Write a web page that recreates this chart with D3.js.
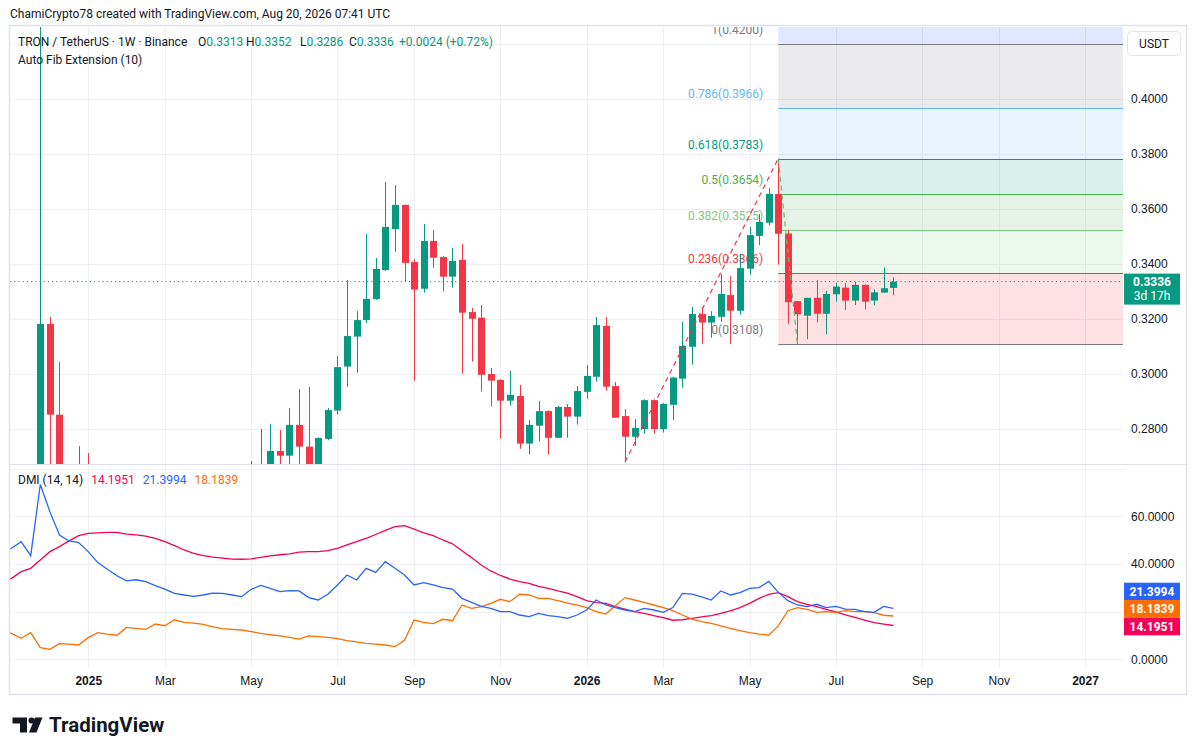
<!DOCTYPE html>
<html>
<head>
<meta charset="utf-8">
<script src="https://cdn.jsdelivr.net/npm/d3@7"></script>
<style>
  body { margin: 0; background: #fff; }
  svg { display: block; font-family: Roboto, "Liberation Sans", sans-serif; }
</style>
</head>
<body>
<div id="vis"></div>
<script>
// TRX / USDT weekly bars (Binance)
const weeks = [
  "2024-11-04","2024-11-11","2024-11-18","2024-11-25","2024-12-02","2024-12-09","2024-12-16","2024-12-23","2024-12-30",
  "2025-01-06","2025-01-13","2025-01-20","2025-01-27","2025-02-03","2025-02-10","2025-02-17","2025-02-24",
  "2025-03-03","2025-03-10","2025-03-17","2025-03-24","2025-03-31","2025-04-07","2025-04-14","2025-04-21","2025-04-28",
  "2025-05-05","2025-05-12","2025-05-19","2025-05-26","2025-06-02","2025-06-09","2025-06-16","2025-06-23","2025-06-30",
  "2025-07-07","2025-07-14","2025-07-21","2025-07-28","2025-08-04","2025-08-11","2025-08-18","2025-08-25",
  "2025-09-01","2025-09-08","2025-09-15","2025-09-22","2025-09-29","2025-10-06","2025-10-13","2025-10-20","2025-10-27",
  "2025-11-03","2025-11-10","2025-11-17","2025-11-24","2025-12-01","2025-12-08","2025-12-15","2025-12-22","2025-12-29",
  "2026-01-05","2026-01-12","2026-01-19","2026-01-26","2026-02-02","2026-02-09","2026-02-16","2026-02-23",
  "2026-03-02","2026-03-09","2026-03-16","2026-03-23","2026-03-30","2026-04-06","2026-04-13","2026-04-20","2026-04-27",
  "2026-05-04","2026-05-11","2026-05-18","2026-05-25","2026-06-01","2026-06-08","2026-06-15","2026-06-22","2026-06-29",
  "2026-07-06","2026-07-13","2026-07-20","2026-07-27","2026-08-03","2026-08-10","2026-08-17"
];
const opens = [
  0.1600,0.1680,0.1800,0.1990,0.2000,0.3182,0.2852,0.2500,0.2520,
  0.2560,0.2450,0.2400,0.2450,0.2370,0.2410,0.2390,0.2320,
  0.2400,0.2350,0.2260,0.2250,0.2320,0.2400,0.2440,0.2470,0.2460,
  0.2500,0.2620,0.2640,0.2720,0.2703,0.2815,0.2736,0.2650,0.2764,
  0.2867,0.3027,0.3136,0.3196,0.3272,0.3378,0.3527,0.3615,
  0.3407,0.3310,0.3484,0.3425,0.3354,0.3415,0.3225,0.3205,0.3000,
  0.2978,0.2903,0.2920,0.2747,0.2812,0.2865,0.2768,0.2880,0.2845,
  0.2935,0.2990,0.3175,0.2956,0.2847,0.2772,0.2800,0.2905,
  0.2800,0.2888,0.2983,0.3099,0.3218,0.3187,0.3208,0.3287,0.3230,
  0.3383,0.3502,0.3550,0.3655,0.3511,0.3265,0.3212,0.3277,0.3219,
  0.3290,0.3314,0.3267,0.3324,0.3267,0.3296,0.3313
];
const highs = [
  0.1700,0.1850,0.2050,0.2100,0.4490,0.3207,0.3044,0.2620,0.2738,
  0.2713,0.2620,0.2580,0.2550,0.2500,0.2490,0.2480,0.2460,
  0.2500,0.2370,0.2360,0.2400,0.2460,0.2520,0.2540,0.2500,0.2560,
  0.2684,0.2800,0.2818,0.2796,0.2876,0.2945,0.2953,0.2770,0.2876,
  0.3065,0.3342,0.3229,0.3509,0.3422,0.3698,0.3687,0.3616,
  0.3418,0.3545,0.3524,0.3429,0.3458,0.3473,0.3240,0.3251,0.3022,
  0.2982,0.3011,0.2960,0.2833,0.2902,0.2868,0.2884,0.2891,0.2956,
  0.3033,0.3207,0.3207,0.2971,0.2873,0.2836,0.2908,0.2908,
  0.2894,0.2990,0.3189,0.3244,0.3244,0.3228,0.3364,0.3356,0.3437,
  0.3535,0.3582,0.3676,0.3783,0.3524,0.3265,0.3277,0.3342,0.3303,
  0.3332,0.3330,0.3335,0.3326,0.3308,0.3387,0.3352
];
const lows = [
  0.1580,0.1630,0.1770,0.1900,0.1980,0.2620,0.2350,0.2350,0.2400,
  0.2350,0.2250,0.2280,0.2200,0.2150,0.2320,0.2300,0.2220,
  0.2260,0.2200,0.2180,0.2210,0.2250,0.2250,0.2380,0.2400,0.2420,
  0.2460,0.2580,0.2600,0.2620,0.2620,0.2640,0.2620,0.2600,0.2759,
  0.2852,0.2954,0.3005,0.3185,0.3270,0.3375,0.3445,0.3336,
  0.2976,0.3296,0.3387,0.3300,0.3314,0.3001,0.3045,0.2936,0.2881,
  0.2765,0.2885,0.2728,0.2707,0.2754,0.2707,0.2768,0.2768,0.2816,
  0.2910,0.2972,0.2939,0.2840,0.2680,0.2739,0.2783,0.2783,
  0.2787,0.2833,0.2950,0.3034,0.3110,0.3132,0.3190,0.3109,0.3216,
  0.3361,0.3469,0.3539,0.3398,0.3182,0.3108,0.3126,0.3188,0.3144,
  0.3263,0.3233,0.3251,0.3235,0.3250,0.3296,0.3286
];
const closes = [
  0.1680,0.1800,0.1990,0.2000,0.3182,0.2852,0.2500,0.2520,0.2560,
  0.2450,0.2400,0.2450,0.2370,0.2410,0.2390,0.2320,0.2400,
  0.2350,0.2260,0.2250,0.2320,0.2400,0.2440,0.2470,0.2460,0.2500,
  0.2620,0.2640,0.2720,0.2703,0.2815,0.2736,0.2650,0.2767,0.2869,
  0.3025,0.3138,0.3196,0.3273,0.3382,0.3535,0.3615,0.3404,
  0.3307,0.3484,0.3423,0.3354,0.3411,0.3223,0.3201,0.2997,0.2976,
  0.2903,0.2924,0.2747,0.2815,0.2865,0.2768,0.2880,0.2845,0.2938,
  0.2993,0.3178,0.2954,0.2841,0.2772,0.2804,0.2905,0.2800,
  0.2891,0.2987,0.3102,0.3218,0.3187,0.3211,0.3291,0.3230,0.3385,
  0.3505,0.3553,0.3655,0.3510,0.3261,0.3217,0.3277,0.3219,0.3291,
  0.3318,0.3267,0.3324,0.3263,0.3297,0.3312,0.3336
];

// DMI (14, 14)
const plusDI = [
  44.5,46.6,49.4,43.5,73.4,62.0,52.2,49.7,49.0,
  45.2,40.6,37.8,35.1,32.9,33.4,32.6,30.9,
  29.5,27.7,27.0,26.4,27.0,27.8,27.7,27.0,26.3,
  29.4,31.0,29.8,28.4,28.8,28.7,25.9,24.9,27.3,
  31.2,35.4,33.3,38.2,36.5,41.0,38.2,35.4,
  31.2,32.2,31.2,30.1,29.5,25.6,23.9,22.2,21.4,
  20.0,20.0,18.6,17.9,19.3,18.3,17.9,17.2,18.6,
  20.7,24.9,22.8,21.7,20.7,20.0,21.4,20.7,
  19.7,21.7,27.7,27.4,26.2,24.9,28.7,27.0,28.0,
  29.8,30.1,32.7,28.1,24.6,22.8,22.1,23.1,21.7,
  22.2,21.1,21.0,20.0,19.7,22.2,21.3994
];
const minusDI = [
  11.6,10.9,8.8,11.2,4.9,4.2,6.6,6.4,6.0,
  9.1,11.2,10.6,10.1,13.4,13.0,12.6,14.8,
  14.1,16.6,15.5,15.2,14.7,13.6,12.9,12.6,12.3,
  11.6,10.9,10.3,9.8,9.2,8.5,9.8,9.5,9.2,
  8.7,7.8,7.3,6.7,6.4,6.0,5.3,8.0,
  16.5,15.5,15.0,16.8,16.2,22.8,21.4,22.1,23.5,
  25.2,24.2,27.3,27.0,25.6,25.6,24.6,23.6,22.7,
  21.7,20.0,19.0,22.5,25.9,24.9,23.9,22.8,
  21.7,20.4,18.6,16.9,15.8,15.1,14.0,13.0,12.0,
  11.2,10.6,10.1,14.0,20.4,21.7,21.0,19.7,20.0,
  19.7,20.4,20.0,20.0,19.6,18.5,18.1839
];
const adx = [
  32.6,34.0,36.8,38.2,41.7,45.2,47.3,49.7,51.9,
  52.9,53.1,53.3,53.3,52.6,52.2,51.7,50.8,
  49.4,47.7,45.9,44.5,43.5,42.9,42.5,42.1,42.0,
  42.2,42.8,43.4,43.9,44.3,45.0,45.2,45.2,45.6,
  46.6,48.0,49.4,50.8,52.4,54.1,55.7,56.1,
  54.7,53.1,51.9,50.1,48.5,45.6,42.7,39.6,37.1,
  35.2,33.7,32.6,31.9,30.6,29.8,28.7,27.8,26.3,
  24.6,23.8,23.5,22.1,21.1,20.0,19.3,18.3,
  17.5,16.4,16.6,17.2,17.8,18.3,19.3,20.3,21.7,
  23.5,25.6,27.3,28.0,26.3,24.2,23.1,22.1,21.0,
  19.9,18.7,17.6,16.5,15.4,14.8,14.1951
];

const priceTicks = [0.28, 0.30, 0.32, 0.34, 0.36, 0.38, 0.40];
const dmiTicks = [0, 40, 60];
const dmiGrid = [0, 20, 40, 60, 80];
const timeTicks = ["2025-01-06","2025-03-03","2025-05-05","2025-07-07","2025-09-01","2025-11-03",
                   "2026-01-05","2026-03-02","2026-05-04","2026-07-06","2026-09-07","2026-11-02","2027-01-04"];
const timeLabels = ["2025","Mar","May","Jul","Sep","Nov","2026","Mar","May","Jul","Sep","Nov","2027"];

// Auto Fib Extension levels
const fibRatios = [0, 0.236, 0.382, 0.5, 0.618, 0.786, 1, 1.618];
const fibPrices = [0.3108, 0.3366, 0.3525, 0.3654, 0.3783, 0.3966, 0.4200, 0.4783];
const fibStart = "2026-05-25";
const trendPoints = [["2026-02-02", 0.2680], ["2026-05-25", 0.3783], ["2026-06-08", 0.3108]];

const lastPrice = 0.3336;
const lastChange = 0.0024;
const dmiLast = [21.3994, 18.1839, 14.1951];

// colours
const UP = "#089981", DOWN = "#f23645";
const fibColors = ["#787b86", "#f23645", "#81c784", "#4caf50", "#089981", "#64b5f6", "#787b86", "#2962ff"];
const dmiColors = {plus: "#2962ff", minus: "#ff6d00", adx: "#f50057"};
const GRID = "#eff0f3", TEXT = "#131722";

const parse = d3.utcParse("%Y-%m-%d");
const bars = weeks.map((w, i) => ({
  date: parse(w), o: opens[i], h: highs[i], l: lows[i], c: closes[i],
  pdi: plusDI[i], mdi: minusDI[i], adx: adx[i]
}));

// layout
const W = 1195, H = 755;
const left = 10, right = 1123, frameRight = 1186;
const pTop = 27, pBot = 464, dTop = 465, dBot = 667, frameBot = 694;

const svg = d3.select("#vis").append("svg")
    .attr("width", W).attr("height", H);

const x = d3.scaleUtc()
    .domain([parse("2024-12-02"), parse("2026-08-17")])
    .range([40.3, 893.3]);
const y = d3.scaleLinear().domain([0.28, 0.40]).range([429, 99]);
const yd = d3.scaleLinear().domain([0, 60]).range([659.3, 516.4]);

const defs = svg.append("defs");
defs.append("clipPath").attr("id", "clipP").append("rect")
    .attr("x", left).attr("y", pTop).attr("width", right - left).attr("height", pBot - pTop);
defs.append("clipPath").attr("id", "clipD").append("rect")
    .attr("x", left).attr("y", dTop).attr("width", right - left).attr("height", dBot - dTop);

// grid
const grid = svg.append("g");
grid.selectAll(".vg").data(timeTicks).enter().append("line")
    .attr("x1", d => Math.round(x(parse(d))) + 0.5).attr("x2", d => Math.round(x(parse(d))) + 0.5)
    .attr("y1", pTop).attr("y2", dBot)
    .attr("stroke", GRID);
grid.selectAll(".hg").data(priceTicks.concat([0.42])).enter().append("line")
    .attr("x1", left).attr("x2", right)
    .attr("y1", d => Math.round(y(d)) + 0.5).attr("y2", d => Math.round(y(d)) + 0.5)
    .attr("stroke", GRID);
grid.selectAll(".dg").data(dmiGrid).enter().append("line")
    .attr("x1", left).attr("x2", right)
    .attr("y1", d => Math.round(yd(d)) + 0.5).attr("y2", d => Math.round(yd(d)) + 0.5)
    .attr("stroke", GRID);

// price pane
const pane = svg.append("g").attr("clip-path", "url(#clipP)");
const fx = x(parse(fibStart));

// fib zones, each filled with the colour of its upper level
const zones = fibPrices.slice(1).map((p, i) => ({lo: fibPrices[i], hi: p, color: fibColors[i + 1]}));
pane.selectAll(".zone").data(zones).enter().append("rect")
    .attr("x", fx).attr("width", right - fx)
    .attr("y", d => y(d.hi)).attr("height", d => y(d.lo) - y(d.hi))
    .attr("fill", d => d.color).attr("fill-opacity", 0.15);
pane.selectAll(".fibline").data(fibPrices.slice(0, 7)).enter().append("line")
    .attr("x1", fx).attr("x2", right)
    .attr("y1", d => Math.round(y(d)) + 0.5).attr("y2", d => Math.round(y(d)) + 0.5)
    .attr("stroke", (d, i) => fibColors[i]).attr("stroke-width", 1.2);
pane.selectAll(".fiblabel").data(fibPrices.slice(0, 7)).enter().append("text")
    .attr("x", fx - 15).attr("y", d => y(d) - 10)
    .attr("text-anchor", "end").attr("font-size", 12)
    .attr("fill", (d, i) => fibColors[i])
    .text((d, i) => `${fibRatios[i]}(${d.toFixed(4)})`);

// current price line
pane.append("line")
    .attr("x1", left).attr("x2", right)
    .attr("y1", y(lastPrice)).attr("y2", y(lastPrice))
    .attr("stroke", UP).attr("stroke-width", 1).attr("stroke-dasharray", "1.2,3");

// candles
const cw = 7;
const candle = pane.selectAll(".bar").data(bars).enter().append("g");
candle.append("line")
    .attr("x1", d => Math.round(x(d.date)) + 0.5).attr("x2", d => Math.round(x(d.date)) + 0.5)
    .attr("y1", d => y(d.h)).attr("y2", d => y(d.l))
    .attr("stroke", d => d.c >= d.o ? UP : DOWN).attr("stroke-width", 1);
candle.append("rect")
    .attr("x", d => Math.round(x(d.date)) + 0.5 - cw / 2)
    .attr("width", cw)
    .attr("y", d => y(Math.max(d.o, d.c)))
    .attr("height", d => Math.max(1, Math.abs(y(d.o) - y(d.c))))
    .attr("fill", d => d.c >= d.o ? UP : DOWN);

// fib anchor trend lines
const tl = trendPoints.map(d => [x(parse(d[0])), y(d[1])]);
pane.append("line")
    .attr("x1", tl[0][0]).attr("y1", tl[0][1]).attr("x2", tl[1][0]).attr("y2", tl[1][1])
    .attr("stroke", DOWN).attr("stroke-width", 1.2).attr("stroke-dasharray", "5,4");
pane.append("line")
    .attr("x1", tl[1][0]).attr("y1", tl[1][1]).attr("x2", tl[2][0]).attr("y2", tl[2][1])
    .attr("stroke", "#66bb6a").attr("stroke-width", 1.2).attr("stroke-dasharray", "5,4");

// DMI pane
const dpane = svg.append("g").attr("clip-path", "url(#clipD)");
const mkLine = key => d3.line().x(d => x(d.date)).y(d => yd(d[key]));
[["adx", dmiColors.adx], ["mdi", dmiColors.minus], ["pdi", dmiColors.plus]].forEach(([k, c]) => {
  dpane.append("path").datum(bars)
      .attr("d", mkLine(k))
      .attr("fill", "none").attr("stroke", c).attr("stroke-width", 1.3);
});

// pane separator + frame
svg.append("line").attr("x1", left).attr("x2", frameRight).attr("y1", pBot + 0.5).attr("y2", pBot + 0.5)
    .attr("stroke", "#e0e3eb");
svg.append("rect").attr("x", left - 0.5).attr("y", pTop - 1.5)
    .attr("width", frameRight - left + 1).attr("height", frameBot - pTop + 2)
    .attr("fill", "none").attr("stroke", "#e0e3eb").attr("stroke-width", 1.5);

// price axis
const pAxis = svg.append("g").attr("transform", `translate(${right},0)`)
    .call(d3.axisRight(y).tickValues(priceTicks).tickSize(0).tickPadding(8).tickFormat(d3.format(".4f")));
pAxis.select(".domain").remove();
pAxis.selectAll("text").attr("font-size", 12).attr("fill", TEXT).attr("font-family", null);

// DMI axis
const dAxis = svg.append("g").attr("transform", `translate(${right},0)`)
    .call(d3.axisRight(yd).tickValues(dmiTicks).tickSize(0).tickPadding(8).tickFormat(d3.format(".4f")));
dAxis.select(".domain").remove();
dAxis.selectAll("text").attr("font-size", 12).attr("fill", TEXT).attr("font-family", null);

// time axis
const tAxis = svg.append("g").attr("transform", `translate(0,${dBot})`)
    .call(d3.axisBottom(x).tickValues(timeTicks.map(parse)).tickSize(0).tickPadding(9)
      .tickFormat((d, i) => timeLabels[i]));
tAxis.select(".domain").remove();
tAxis.selectAll("text").attr("font-size", 12).attr("fill", TEXT).attr("font-family", null)
    .attr("font-weight", (d, i) => /^\d{4}$/.test(timeLabels[i]) ? 700 : 400);

// last value labels
const pl = svg.append("g");
pl.append("rect").attr("x", right + 1).attr("y", y(lastPrice) - 8).attr("width", 56).attr("height", 31)
    .attr("fill", UP);
pl.append("text").attr("x", right + 29).attr("y", y(lastPrice) + 4.5).attr("text-anchor", "middle")
    .attr("font-size", 12).attr("font-weight", 700).attr("fill", "#fff").text(lastPrice.toFixed(4));
pl.append("text").attr("x", right + 29).attr("y", y(lastPrice) + 18.5).attr("text-anchor", "middle")
    .attr("font-size", 12).attr("fill", "#fff").text("3d 17h");

const boxColors = [dmiColors.plus, dmiColors.minus, dmiColors.adx];
const boxTops = [582.7, 600, 617.7];
dmiLast.forEach((v, i) => {
  svg.append("rect").attr("x", right + 1).attr("y", boxTops[i]).attr("width", 56).attr("height", 17.6)
      .attr("fill", boxColors[i]);
  svg.append("text").attr("x", right + 29).attr("y", boxTops[i] + 13).attr("text-anchor", "middle")
      .attr("font-size", 12).attr("font-weight", 700).attr("fill", "#fff").text(v.toFixed(4));
});

// currency box
svg.append("rect").attr("x", 1127.5).attr("y", 31.5).attr("width", 53).attr("height", 24).attr("rx", 4)
    .attr("fill", "#fff").attr("stroke", "#e0e3eb");
svg.append("text").attr("x", 1154).attr("y", 48).attr("text-anchor", "middle")
    .attr("font-size", 12).attr("fill", TEXT).text("USDT");

// header texts
svg.append("text").attr("x", 10).attr("y", 18).attr("font-size", 12).attr("fill", TEXT)
    .text("ChamiCrypto78 created with TradingView.com, Aug 20, 2026 07:41 UTC");

const last = bars[bars.length - 1];
const legend = svg.append("text").attr("y", 45.5).attr("font-size", 12).attr("fill", TEXT);
legend.append("tspan").attr("x", 18).text("TRON / TetherUS · 1W · Binance");
const ohlcX = [198, 246, 300, 349];
[["O", last.o], ["H", last.h], ["L", last.l], ["C", last.c]].forEach(([k, v], i) => {
  legend.append("tspan").attr("x", ohlcX[i]).text(k);
  legend.append("tspan").attr("fill", UP).text(v.toFixed(4));
});
legend.append("tspan").attr("x", 399).attr("fill", UP)
    .text(`+${lastChange.toFixed(4)} (+${(lastChange / (lastPrice - lastChange) * 100).toFixed(2)}%)`);

svg.append("text").attr("x", 18).attr("y", 63.5).attr("font-size", 12).attr("fill", TEXT)
    .text("Auto Fib Extension (10)");

const dl = svg.append("text").attr("x", 18).attr("y", 483.5).attr("font-size", 12).attr("fill", TEXT);
dl.append("tspan").text("DMI (14, 14)");
dl.append("tspan").attr("dx", 8).attr("fill", dmiColors.adx).text(dmiLast[2].toFixed(4));
dl.append("tspan").attr("dx", 8).attr("fill", dmiColors.plus).text(dmiLast[0].toFixed(4));
dl.append("tspan").attr("dx", 8).attr("fill", dmiColors.minus).text(dmiLast[1].toFixed(4));

// TradingView logo
const logo = svg.append("g").attr("fill", "#131722");
logo.append("path").attr("d", "M12.5,717.5 H27 V732.5 H20 V723.5 H12.5 Z");
logo.append("circle").attr("cx", 31.5).attr("cy", 720.5).attr("r", 3);
logo.append("path").attr("d", "M35,717.5 H42.5 L36.5,732.5 H29 Z");
svg.append("text").attr("x", 49).attr("y", 732).attr("font-size", 20.5).attr("font-weight", 700)
    .attr("fill", "#131722").text("TradingView");
</script>
</body>
</html>
